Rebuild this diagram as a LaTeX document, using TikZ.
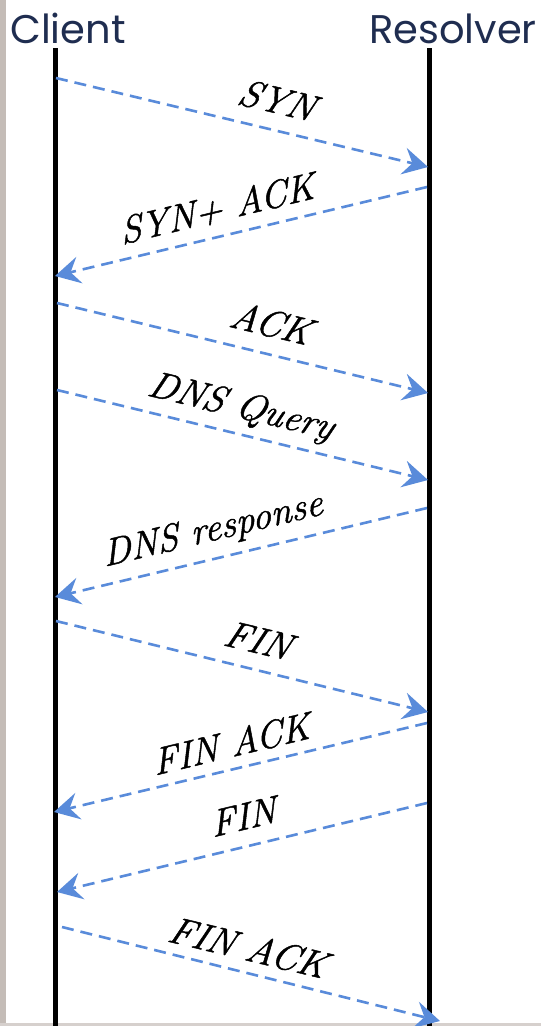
\documentclass[tikz,border=0pt]{standalone}
\usepackage{fontspec}
\newfontfamily\headfont{Poppins}
\newfontfamily\lblfont{Latin Modern Roman}[ItalicFeatures={FakeSlant=0.12, FakeBold=1.2}]
\usetikzlibrary{arrows.meta}
\definecolor{msgblue}{RGB}{89,139,218}
\definecolor{headnavy}{RGB}{31,45,80}
\definecolor{edgegray}{RGB}{196,188,183}
\tikzset{
  lifeline/.style={line width=4.5pt, black},
  msg/.style={draw=msgblue, line width=2.6pt, dash pattern=on 12pt off 7pt,
    -{Stealth[length=25pt, width=27pt, inset=9pt, fill=msgblue]}},
  head/.style={inner sep=0pt, text=headnavy, font=\headfont\fontsize{40}{48}\selectfont},
  msglabel/.style={inner sep=0pt, font=\lblfont\fontsize{38}{44}\selectfont\itshape},
}
\begin{document}
\begin{tikzpicture}[x=1pt,y=-1pt]
\useasboundingbox (0,0) rectangle (541,1026);
\fill[white] (0,0) rectangle (541,1026);
\fill[edgegray] (0,0) rectangle (6,1026);
\fill[edgegray!70] (0,1023) rectangle (541,1026);

\node[head, anchor=base west] (client) at (10,43) {Client};
\node[head, anchor=base east] (resolver) at (537,43) {Resolver};

\coordinate (ctop) at (55.5,48);
\coordinate (cbot) at (55.5,1026);
\coordinate (rtop) at (429.5,48);
\coordinate (rbot) at (429.5,1026);
\draw[lifeline] (ctop) -- (cbot);
\draw[lifeline] (rtop) -- (rbot);

% message end points
\coordinate (c1) at (56,78);   \coordinate (r1) at (428,167);
\coordinate (r2) at (427,187); \coordinate (c2) at (55,276);
\coordinate (c3) at (57,303);  \coordinate (r3) at (428,393);
\coordinate (c4) at (57,390);  \coordinate (r4) at (428,480);
\coordinate (r5) at (427,508); \coordinate (c5) at (55,597);
\coordinate (c6) at (56,621);  \coordinate (r6) at (428,712);
\coordinate (r7) at (427,723); \coordinate (c7) at (54,812);
\coordinate (r8) at (427,803); \coordinate (c8) at (57,892);
\coordinate (c9) at (62,927);  \coordinate (r9) at (440,1021);

\draw[msg] (c1) -- (r1);
\draw[msg] (r2) -- (c2);
\draw[msg] (c3) -- (r3);
\draw[msg] (c4) -- (r4);
\draw[msg] (r5) -- (c5);
\draw[msg] (c6) -- (r6);
\draw[msg] (r7) -- (c7);
\draw[msg] (r8) -- (c8);
\draw[msg] (c9) -- (r9);

\node[msglabel, rotate=-13.5] (l1) at (276,100) {SYN};
\node[msglabel, rotate=13.5]  (l2) at (216,209) {SYN+ ACK};
\node[msglabel, rotate=-13.5] (l3) at (270,323) {ACK};
\node[msglabel, rotate=-13.5] (l4) at (240,408) {DNS Query};
\node[msglabel, rotate=13.5]  (l5) at (212,531) {DNS response};
\node[msglabel, rotate=-13.5] (l6) at (257,640) {FIN};
\node[msglabel, rotate=13.5]  (l7) at (230,744) {FIN ACK};
\node[msglabel, rotate=13.5]  (l8) at (242,817) {FIN};
\node[msglabel, rotate=-13.5] (l9) at (247,947) {FIN ACK};
\end{tikzpicture}
\end{document}
